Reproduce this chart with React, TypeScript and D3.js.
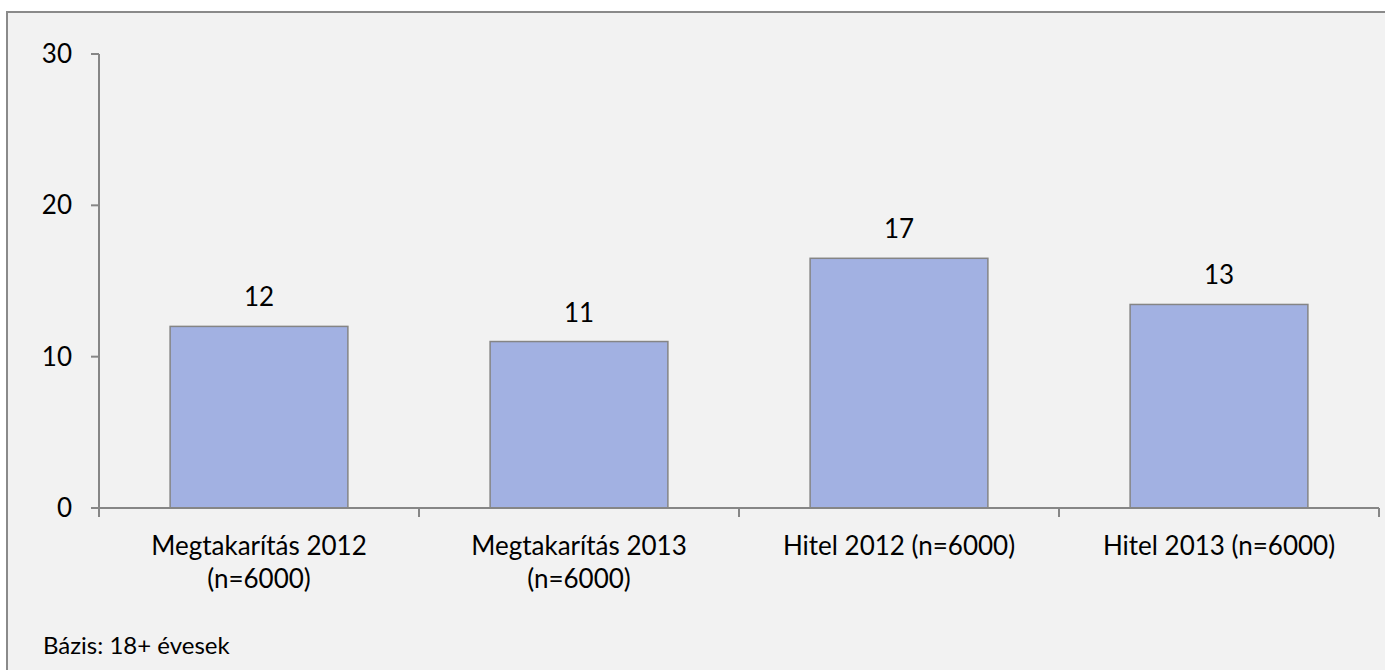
import React from "react";
import * as d3 from "d3";

const categories: string[][] = [
  ["Megtakarítás 2012", "(n=6000)"],
  ["Megtakarítás 2013", "(n=6000)"],
  ["Hitel 2012 (n=6000)"],
  ["Hitel 2013 (n=6000)"],
];
const values: number[] = [12, 11, 16.5, 13.45];
const yTicks: number[] = [0, 10, 20, 30];
const footnote = "Bázis: 18+ évesek";

const W = 1385;
const H = 670;
const FONT = "Lato, 'Open Sans', sans-serif";

export default function App() {
  const keys = categories.map((c) => c.join(" "));
  const x = d3.scaleBand<string>().domain(keys).range([99, 1379]).padding(0);
  const y = d3.scaleLinear().domain([0, 30]).range([508, 54]);
  const bw = x.bandwidth() / 1.8;
  const fmt = d3.format(".0f");
  const axisColor = "#868686";
  const boundaries = [...keys.map((k) => x(k) as number), 1379];

  return (
    <svg
      width={W}
      height={H}
      style={{ position: "absolute", left: 0, top: 0, background: "#ffffff" }}
    >
      <rect x={7} y={12} width={W + 10} height={H + 10} fill="#f2f2f2" stroke="#8a8a8a" strokeWidth={2} />
      {/* y axis */}
      <line x1={99} x2={99} y1={y(30)} y2={y(0)} stroke={axisColor} strokeWidth={2} />
      {yTicks.map((t) => (
        <g key={t}>
          <line x1={91} x2={99} y1={y(t)} y2={y(t)} stroke={axisColor} strokeWidth={2} />
          <text x={72} y={y(t)} dy="0.35em" textAnchor="end" fontFamily={FONT} fontSize={26} fill="#000">
            {t}
          </text>
        </g>
      ))}
      {/* bars */}
      {keys.map((k, i) => {
        const cx = (x(k) as number) + x.bandwidth() / 2;
        return (
          <g key={k}>
            <rect
              x={cx - bw / 2}
              y={y(values[i])}
              width={bw}
              height={y(0) - y(values[i])}
              fill="#a2b1e2"
              stroke="#858585"
              strokeWidth={1.5}
            />
            <text x={cx} y={y(values[i]) - 20} textAnchor="middle" fontFamily={FONT} fontSize={26} fill="#000">
              {fmt(values[i])}
            </text>
          </g>
        );
      })}
      {/* x axis */}
      <line x1={99} x2={1379} y1={y(0)} y2={y(0)} stroke={axisColor} strokeWidth={2} />
      {boundaries.map((b, i) => (
        <line key={i} x1={b} x2={b} y1={y(0)} y2={y(0) + 9} stroke={axisColor} strokeWidth={2} />
      ))}
      {categories.map((lines, i) => {
        const cx = (x(keys[i]) as number) + x.bandwidth() / 2;
        return (
          <text key={i} x={cx} y={555} textAnchor="middle" fontFamily={FONT} fontSize={26} fill="#000">
            {lines.map((l, j) => (
              <tspan key={j} x={cx} dy={j === 0 ? 0 : 33}>
                {l}
              </tspan>
            ))}
          </text>
        );
      })}
      <text x={43} y={654} fontFamily={FONT} fontSize={24} fill="#000">
        {footnote}
      </text>
    </svg>
  );
}
